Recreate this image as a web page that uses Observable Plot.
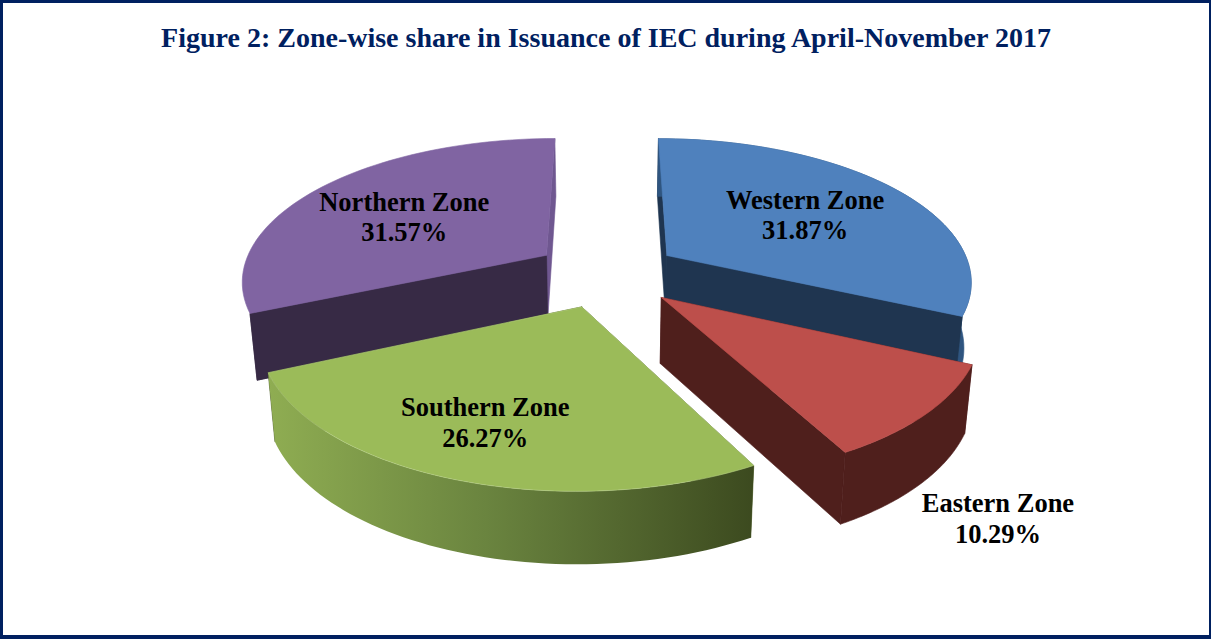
<!DOCTYPE html>
<html>
<head>
<meta charset="utf-8">
<script src="https://cdn.jsdelivr.net/npm/d3@7"></script>
<script src="https://cdn.jsdelivr.net/npm/@observablehq/plot@0.6"></script>
<style>
html,body{margin:0;padding:0;background:#fff}
#frame{position:relative;box-sizing:border-box;width:1211px;height:639px;overflow:hidden;background:#fff;
 border-style:solid;border-color:#002060;border-width:3px 2px 4px 3px}
#title{height:68px;box-sizing:border-box;padding-top:20px;text-align:center;color:#002060;
 font:bold 28px/30px "Liberation Serif",serif;white-space:nowrap}
#chart svg{display:block}
</style>
</head>
<body>
<div id="frame"><div id="title">Figure 2: Zone-wise share in Issuance of IEC during April-November 2017</div><div id="chart"></div></div>
<script>
// Data, clockwise from 12 o'clock
const zones  = ["Western Zone", "Eastern Zone", "Southern Zone", "Northern Zone"];
const shares = [31.87, 10.29, 26.27, 31.57];

// Colours
const topColors  = ["#4f81bd", "#bd4f4b", "#9bbb59", "#8064a2"];
const wallColors = ["#1f3550", "#4f1f1c", "#4a5a26", "#372a45"];
const rimColors  = ["#2f5580", "#4f1f1c", "url(#southGrad)", "#6f5790"];

// Projection of the tilted pie
const cx = 606, cy = 273, R = 305, RY = 141.6, K = 0.165, H = 65, EXPLODE = 0.24, SHRINK = 0.02;
const rad = d => d * Math.PI / 180;
function project(u, v, z) {
  const w = 1 + K * v;
  const s = 1 - SHRINK * z;
  return {x: cx + (R * u / w) * s, y: cy - RY * v / w + H * z * (1 - 0.1 * v)};
}

// Slice angles from the shares
let run = 0;
const total = d3.sum(shares);
const slices = zones.map((name, i) => {
  const a0 = run / total * 360; run += shares[i];
  const a1 = run / total * 360;
  const mid = (a0 + a1) / 2;
  return {name, share: shares[i], a0, a1, mid, i,
    ox: EXPLODE * Math.sin(rad(mid)), oy: EXPLODE * Math.cos(rad(mid))};
});
const P = (s, r, a, z) => project(s.ox + r * Math.sin(rad(a)), s.oy + r * Math.cos(rad(a)), z);
const arc = (s, z) => d3.range(0, 61).map(k => P(s, 1, s.a0 + (s.a1 - s.a0) * k / 60, z));
const close = pts => [...pts, pts[0]];

const topFace = s => close([P(s, 0, 0, 0), ...arc(s, 0)]);
const rimFace = s => close([...arc(s, 0), ...arc(s, 1).reverse()]);
const wallFace = (s, a) => close([P(s, 0, 0, 0), P(s, 1, a, 0), P(s, 1, a, 1), P(s, 0, 0, 1)]);

const face = (pts, color, edge) => Plot.line(pts, {x: "x", y: "y", fill: color, stroke: edge || color, strokeWidth: 0.6, curve: "linear"});

const order = [0, 3, 1, 2]; // back to front
const marks = [
  () => {
    const ns = "http://www.w3.org/2000/svg";
    const defs = document.createElementNS(ns, "defs");
    const g = document.createElementNS(ns, "linearGradient");
    g.setAttribute("id", "southGrad");
    [["0%", "#8fad52"], ["45%", "#6a843f"], ["100%", "#3c4a1f"]].forEach(([o, c]) => {
      const st = document.createElementNS(ns, "stop");
      st.setAttribute("offset", o); st.setAttribute("stop-color", c); g.appendChild(st);
    });
    defs.appendChild(g);
    return defs;
  }
];
for (const i of order) {
  const s = slices[i];
  const edge = rimColors[i].startsWith("url") ? "none" : rimColors[i];
  marks.push(face(wallFace(s, s.a0), wallColors[i]));
  marks.push(face(wallFace(s, s.a1), i === 3 ? rimColors[i] : wallColors[i]));
  if (i !== 3) marks.push(face(rimFace(s), rimColors[i], edge));
  if (i === 0) marks.push(face(wallFace(s, s.a1), wallColors[i]));
  if (i === 3) marks.push(face(wallFace(s, s.a0), wallColors[i]));
  marks.push(face(topFace(s), topColors[i], i === 2 ? "#b4cc82" : topColors[i]));
}

// Label placement: radius along the slice's mid angle, depth, pixel nudges
const labelRadius = [0.55, 1.2, 0.6, 0.55];
const labelDepth  = [0, 1, 0, 0];
const labelNudge  = [[9, -3], [17, 6], [-25, 19], [-14, 0]];
slices.forEach((s, i) => {
  const p = P(s, labelRadius[i], s.mid, labelDepth[i]);
  marks.push(Plot.text([p], {
    x: "x", y: "y", text: () => `${s.name}\n${s.share.toFixed(2)}%`,
    dx: labelNudge[i][0], dy: labelNudge[i][1],
    fontFamily: "Liberation Serif", fontWeight: "bold", fontSize: 26.5, lineHeight: 1.15, fill: "#000", textAnchor: "middle"
  }));
});

const chart = Plot.plot({
  width: 1206, height: 564, margin: 0,
  x: {domain: [3, 1209], range: [0, 1206], axis: null},
  y: {domain: [71, 635], range: [0, 564], axis: null},
  style: {background: "transparent"},
  marks
});
document.getElementById("chart").appendChild(chart);
</script>
</body>
</html>
